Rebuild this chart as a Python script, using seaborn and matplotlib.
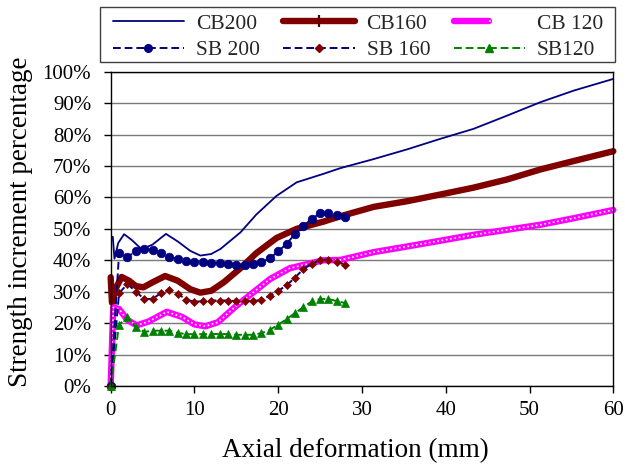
import matplotlib
matplotlib.use("Agg")
import matplotlib.pyplot as plt
import seaborn as sns
from matplotlib.lines import Line2D
from matplotlib.patches import Rectangle
from matplotlib.legend_handler import HandlerTuple

# ---------------- data ----------------
cb200_x = [0.25, 0.45, 0.9, 1.6, 2.5, 3.7, 5.0, 6.6, 8.0, 9.5, 10.7, 12.0, 13.1, 15.5,
           17.4, 19.8, 22.2, 25.4, 27.4, 31.4, 35.4, 39.3, 43.3, 47.3, 51.3, 55.3, 60.0]
cb200_y = [47.5, 40.5, 45.5, 48.3, 46.5, 43.5, 45.0, 48.4, 46.0, 43.0, 41.5, 42.0, 43.6, 48.9,
           54.6, 60.5, 64.8, 67.5, 69.3, 72.2, 75.3, 78.6, 81.8, 86.0, 90.3, 94.0, 97.7]

cb160_x = [0.0, 0.15, 0.6, 1.3, 2.2, 3.0, 3.9, 5.0, 6.5, 8.0, 9.5, 10.7, 12.0, 13.5, 15.5,
           17.4, 19.8, 22.2, 25.4, 27.4, 31.4, 35.4, 39.3, 43.3, 47.3, 51.3, 55.3, 60.0]
cb160_y = [34.6, 26.5, 31.0, 34.7, 33.5, 31.8, 31.4, 33.0, 35.0, 33.5, 30.8, 29.7, 30.3, 33.0, 37.5,
           42.3, 47.1, 50.0, 52.3, 54.0, 57.0, 58.8, 60.9, 63.1, 65.7, 68.9, 71.6, 74.7]

cb120_x = [0.0, 0.3, 1.0, 2.0, 3.1, 4.5, 6.7, 8.5, 10.0, 11.3, 12.8, 15.0, 17.4, 19.0,
           21.4, 25.4, 27.4, 31.4, 35.4, 39.3, 43.3, 47.3, 51.3, 55.3, 60.0]
cb120_y = [0.0, 25.0, 24.5, 21.0, 19.3, 20.5, 23.6, 22.0, 19.6, 19.0, 20.3, 25.5, 30.6, 34.0,
           37.5, 40.0, 40.1, 42.6, 44.4, 46.2, 48.1, 49.7, 51.3, 53.4, 56.0]

sb_x = [0, 1, 2, 3, 4, 5, 6, 7, 8, 9, 10, 11, 12, 13, 14, 15, 16, 17, 18, 19, 20,
        21, 22, 23, 24, 25, 26, 27, 28]
sb200_y = [0.0, 42.2, 41.0, 43.0, 43.6, 43.3, 42.3, 41.2, 40.3, 39.8, 39.4, 39.3, 39.2, 39.0,
           38.8, 38.6, 38.5, 38.8, 39.3, 40.7, 42.8, 45.3, 48.3, 50.9, 53.2, 54.9, 55.1, 54.4, 53.8]
sb160_y = [0.0, 29.5, 32.5, 30.0, 27.7, 27.7, 29.6, 30.6, 29.4, 27.5, 26.8, 27.0, 27.2, 27.2,
           27.2, 27.0, 27.0, 27.0, 27.4, 28.7, 30.3, 32.0, 34.5, 37.2, 38.9, 40.1, 40.2, 39.4, 38.6]
sb120_y = [0.0, 19.5, 22.0, 18.8, 17.2, 17.6, 17.6, 17.6, 16.9, 16.5, 16.5, 16.5, 16.5, 16.6,
           16.5, 16.3, 16.3, 16.3, 16.8, 17.9, 19.5, 21.3, 23.2, 25.1, 26.9, 27.7, 27.7, 27.0, 26.4]

x_ticks = [0, 10, 20, 30, 40, 50, 60]
y_ticks = [0, 10, 20, 30, 40, 50, 60, 70, 80, 90, 100]
y_tick_labels = ["0%", "10%", "20%", "30%", "40%", "50%", "60%", "70%", "80%", "90%", "100%"]
legend_labels = ["CB200", "SB 200", "CB160", "SB 160", "CB 120", "SB120"]

NAVY = "#000080"
DRED = "#800000"
MAG = "#FF00FF"
GREEN = "#008000"

# ---------------- style ----------------
sns.set_theme(style="white")
plt.rcParams["font.family"] = ["Liberation Serif", "DejaVu Serif"]

fig = plt.figure(figsize=(6.25, 4.67), dpi=100)
ax = fig.add_axes([0.1771, 0.1734, 0.8042, 0.6731])

def draw(x, y, **kw):
    sns.lineplot(x=x, y=y, ax=ax, sort=False, estimator=None, **kw)
    ln = ax.lines[-1]
    ln.set_clip_on(False)
    return ln

# continuous (CB) curves
draw(cb200_x, cb200_y, color=NAVY, lw=1.3)
draw(cb160_x, cb160_y, color=DRED, lw=4.6, solid_capstyle="round", solid_joinstyle="round")
draw(cb120_x, cb120_y, color=MAG, lw=4.6, solid_joinstyle="round")
l = draw(cb120_x, cb120_y, color="white", lw=1.2)
l.set_dashes([1, 1.6])

# stepped (SB) curves with markers
l = draw(sb_x, sb200_y, color=NAVY, lw=1.4, marker="o", markersize=6.2,
         markerfacecolor=NAVY, markeredgecolor=NAVY, markeredgewidth=0.5)
l.set_dashes([4, 2])
l = draw(sb_x, sb160_y, color=NAVY, lw=1.4, marker="D", markersize=4.4,
         markerfacecolor=DRED, markeredgecolor=DRED, markeredgewidth=0.5)
l.set_dashes([4, 2])
l = draw(sb_x, sb120_y, color=GREEN, lw=1.4, marker="^", markersize=5.5,
         markerfacecolor=GREEN, markeredgecolor=GREEN, markeredgewidth=0.5)
l.set_dashes([4, 2])

# ---------------- axes ----------------
ax.set_xlim(0, 60)
ax.set_ylim(0, 100)
ax.set_xticks(x_ticks)
ax.set_xticklabels([str(v) for v in x_ticks])
ax.set_yticks(y_ticks)
ax.set_yticklabels(y_tick_labels)
ax.yaxis.grid(True, color="#7a7a7a", lw=1.0)
ax.xaxis.grid(False)
ax.set_axisbelow(True)
for s in ax.spines.values():
    s.set_color("black")
    s.set_linewidth(1.0)
    s.set_visible(True)
ax.tick_params(axis="both", which="major", bottom=True, left=True, direction="out",
               length=5, width=1.0, color="black", labelcolor="black", labelsize=15)
ax.tick_params(axis="y", pad=9)
ax.tick_params(axis="x", pad=6)

ax.set_xlabel("Axial deformation (mm)", fontsize=19.5, color="black")
ax.set_ylabel("Strength increment percentage", fontsize=19.5, color="black")
ax.xaxis.set_label_coords(0.486, -0.165)
ax.yaxis.set_label_coords(-0.155, 0.523)

# ---------------- legend ----------------
h_cb200 = Line2D([], [], color=NAVY, lw=1.3)
h_cb160 = Line2D([], [], color=DRED, lw=4.6, marker="|", markersize=8,
                 markeredgecolor="#5a0000", markeredgewidth=1.6)
h_cb120 = (Line2D([], [], color=MAG, lw=4.6),
           Line2D([], [], color="white", lw=1.2, dashes=[1, 1.6]))
h_sb200 = Line2D([], [], color=NAVY, lw=1.4, dashes=[4, 2], marker="o", markersize=5.5,
                 markerfacecolor=NAVY, markeredgecolor=NAVY)
h_sb160 = Line2D([], [], color=NAVY, lw=1.4, dashes=[4, 2], marker="D", markersize=4,
                 markerfacecolor=DRED, markeredgecolor=DRED)
h_sb120 = Line2D([], [], color=GREEN, lw=1.4, dashes=[4, 2], marker="^", markersize=5.5,
                 markerfacecolor=GREEN, markeredgecolor=GREEN)

handles = [h_cb200, h_sb200, h_cb160, h_sb160, h_cb120, h_sb120]
fig.legend(handles, legend_labels, ncol=3, loc="upper left",
           bbox_to_anchor=(112.7 / 625, 1 - 13.8 / 467), bbox_transform=fig.transFigure,
           frameon=False, borderpad=0, borderaxespad=0, handlelength=3.3,
           handletextpad=0.56, columnspacing=1.1, labelspacing=0.30, fontsize=15.5,
           numpoints=1, handler_map={tuple: HandlerTuple(ndivide=None, pad=0)})
fig.add_artist(Rectangle((100 / 625, 1 - 62 / 467), 515 / 625, 55 / 467,
                         transform=fig.transFigure, fill=False, edgecolor="#404040", lw=1.0))

fig.savefig("out.png", dpi=100)
